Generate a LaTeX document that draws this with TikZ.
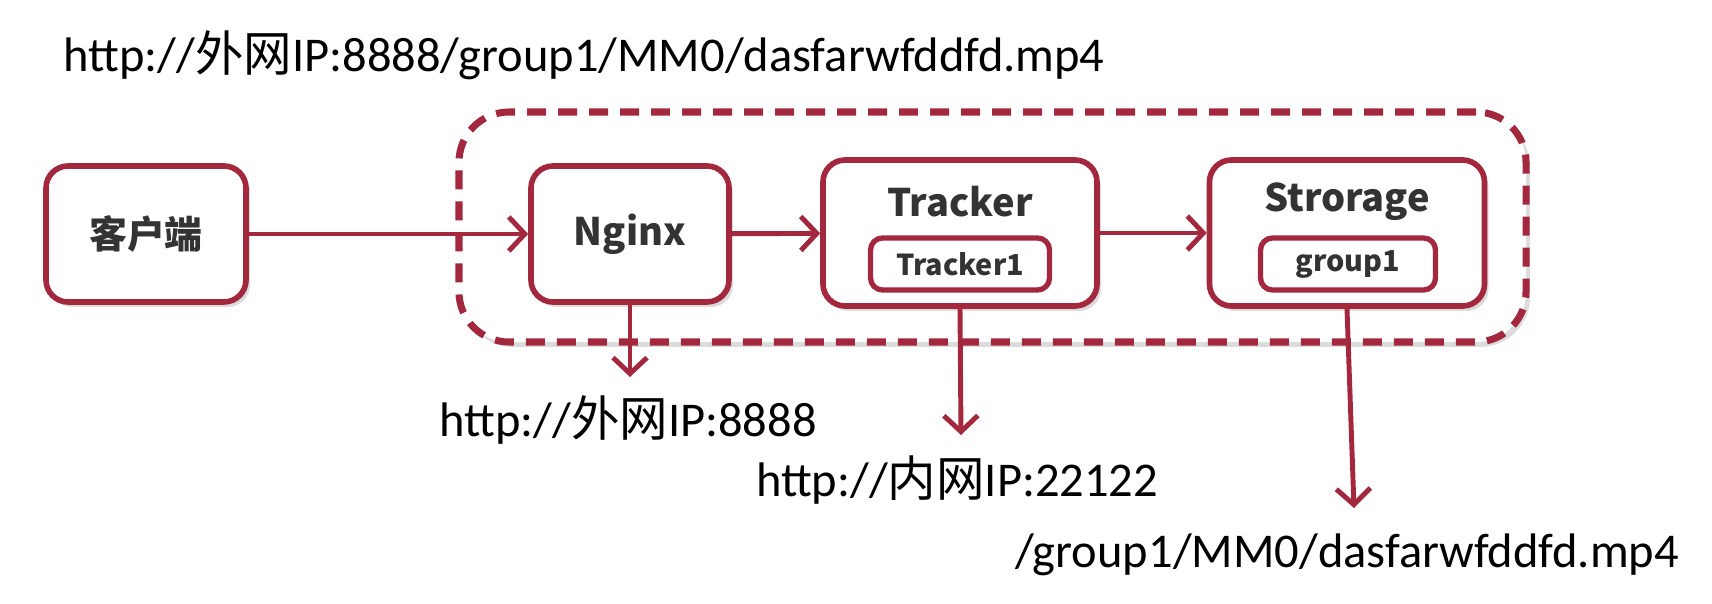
\documentclass[tikz,border=0pt]{standalone}
\usepackage{fontspec}
\setmainfont{Carlito}
\newfontfamily\cjk{Noto Sans CJK SC}
\usepackage{tikz}
\usetikzlibrary{arrows.meta,shadows}
\definecolor{FdfsRed}{HTML}{A3283E}
\definecolor{FdfsText}{HTML}{333333}
\definecolor{FdfsShadow}{HTML}{9A9A9A}

\tikzset{
  softshadow/.style={drop shadow={fill=FdfsShadow,opacity=0.35,shadow xshift=0.04cm,shadow yshift=-0.05cm}},
  fdfsbox/.style={draw=FdfsRed,line width=1.6pt,rounded corners=0.22cm,fill=white,softshadow},
  fdfsinner/.style={draw=FdfsRed,line width=1.5pt,rounded corners=0.12cm,fill=white,
    minimum width=1.75cm,minimum height=0.52cm,inner sep=0pt,text=FdfsText,
    font=\cjk\bfseries\fontsize{8.2}{9}\selectfont},
  fdfstitle/.style={text=FdfsText,font=\cjk\bfseries\fontsize{10.8}{12}\selectfont},
  fdfslink/.style={FdfsRed,line width=1.4pt,-{Straight Barb[length=0.16cm,width=0.34cm]}},
  fdfsaddr/.style={text=black,font=\fontsize{13.8}{15}\selectfont,inner sep=0pt}
}

\begin{document}
\begin{tikzpicture}
      \useasboundingbox (0,0) rectangle (17.12,-6.04);
      % dashed cluster around the server side
      \node[draw=FdfsRed,line width=2pt,dash pattern=on 0.19cm off 0.12cm,rounded corners=0.5cm,
            fill=white,softshadow,minimum width=10.67cm,minimum height=2.3cm] (cluster) at (9.925,-2.27) {};
      % boxes
      \node[fdfsbox,fdfstitle,minimum width=2.0cm,minimum height=1.36cm] (client) at (1.46,-2.34) {客户端};
      \node[fdfsbox,fdfstitle,minimum width=1.98cm,minimum height=1.36cm] (nginx) at (6.30,-2.34) {Nginx};
      \node[fdfsbox,minimum width=2.74cm,minimum height=1.46cm] (tracker) at (9.60,-2.33) {};
      \node[fdfstitle] (trackertitle) at (9.60,-2.02) {Tracker};
      \node[fdfsinner,minimum width=1.79cm] (tracker1) at (9.60,-2.64) {Tracker1};
      \node[fdfsbox,minimum width=2.75cm,minimum height=1.46cm] (storage) at (13.47,-2.33) {};
      \node[fdfstitle] (storagetitle) at (13.47,-2.02) {Strorage};
      \node[fdfsinner] (group1) at (13.48,-2.64) {group1};
      % addresses
      \node[fdfsaddr] (fullurl) at (5.84,-0.55) {http://{\cjk 外网}IP:8888/group1/MM0/dasfarwfddfd.mp4};
      \node[fdfsaddr] (extaddr) at (6.28,-4.20) {http://{\cjk 外网}IP:8888};
      \node[fdfsaddr] (intaddr) at (9.57,-4.80) {http://{\cjk 内网}IP:22122};
      \node[fdfsaddr] (filepath) at (13.47,-5.55) {/group1/MM0/dasfarwfddfd.mp4};
      \coordinate (nginxend) at (6.30,-3.77);
      \coordinate (trackerend) at (9.61,-4.35);
      \coordinate (storageend) at (13.54,-5.08);
      % connectors
      \draw[fdfslink] (client) -- (nginx);
      \draw[fdfslink] (nginx) -- (tracker);
      \draw[fdfslink] (tracker) -- (storage);
      \draw[fdfslink] (nginx.south) -- (nginxend);
      \draw[fdfslink] (tracker.south) -- (trackerend);
      \draw[fdfslink] (storage.south) -- (storageend);
    \end{tikzpicture}
\end{document}
